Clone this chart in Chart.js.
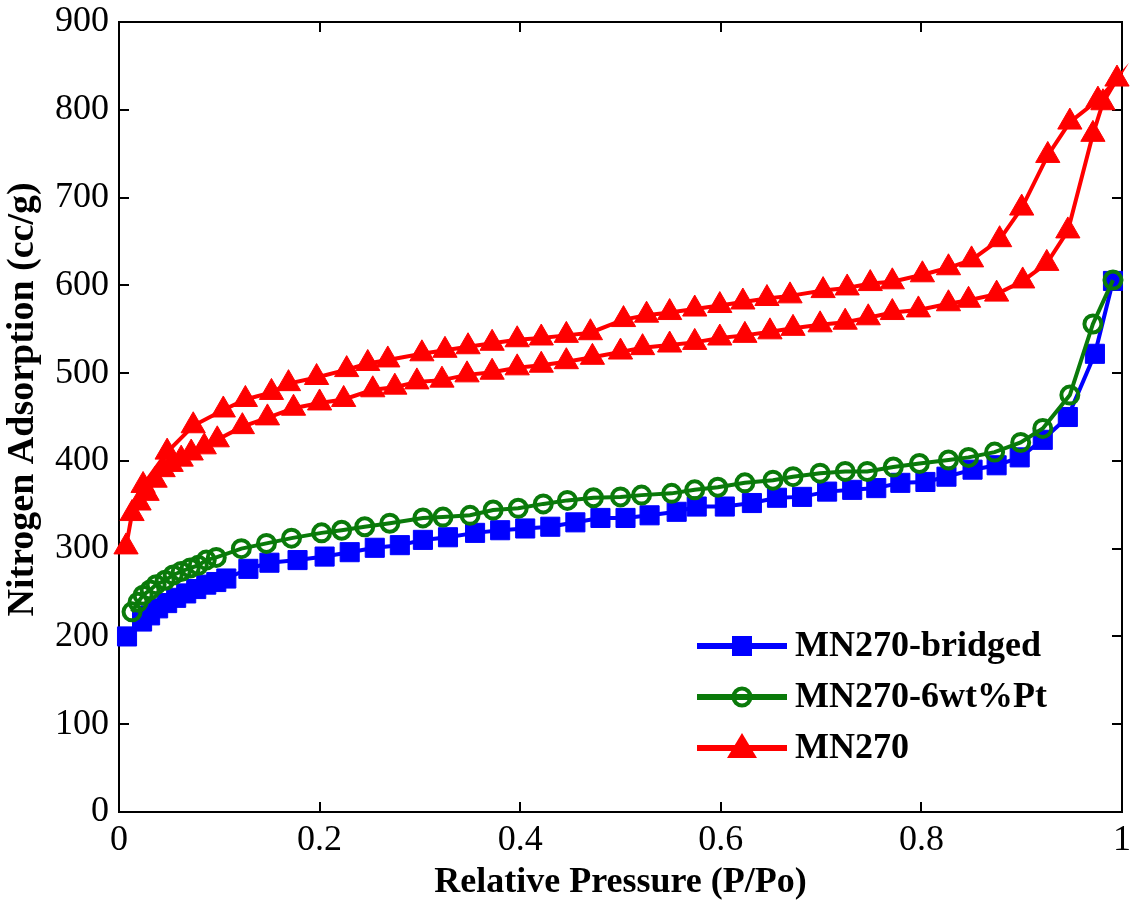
<!DOCTYPE html>
<html lang="en">
<head>
<meta charset="UTF-8">
<title>Nitrogen Adsorption Isotherms</title>
<script src="https://cdn.jsdelivr.net/npm/chart.js"></script>
<style>
    html, body { margin: 0; padding: 0; background: #fff; }
    #wrap { width: 1139px; height: 904px; }
</style>
</head>
<body>
<div id="wrap"><canvas id="isotherm" width="1139" height="904"></canvas></div>
<script>
// MN270-bridged (blue squares)
const bridgedP = [0.008, 0.023, 0.031, 0.039, 0.048, 0.057, 0.067, 0.077, 0.087, 0.097, 0.107, 0.129, 0.150, 0.178, 0.205, 0.230, 0.255, 0.280, 0.303, 0.328, 0.355, 0.380, 0.405, 0.430, 0.455, 0.480, 0.505, 0.529, 0.556, 0.576, 0.604, 0.631, 0.656, 0.681, 0.706, 0.731, 0.755, 0.779, 0.804, 0.825, 0.851, 0.875, 0.898, 0.921, 0.946, 0.973, 0.991];
const bridgedV = [200, 217, 224, 232, 238, 244, 249, 254, 259, 262, 266, 277, 284, 287, 291, 296, 301, 304, 310, 313, 318, 321, 323, 325, 330, 335, 335, 338, 342, 348, 348, 352, 358, 359, 365, 367, 369, 375, 376, 382, 390, 395, 404, 424, 450, 522, 605];

// MN270-6wt%Pt (green circles)
const ptP = [0.013, 0.019, 0.024, 0.031, 0.037, 0.046, 0.054, 0.062, 0.071, 0.079, 0.087, 0.097, 0.122, 0.147, 0.172, 0.202, 0.222, 0.245, 0.270, 0.303, 0.323, 0.350, 0.373, 0.398, 0.423, 0.447, 0.473, 0.500, 0.521, 0.551, 0.574, 0.597, 0.624, 0.652, 0.672, 0.699, 0.724, 0.746, 0.772, 0.798, 0.827, 0.847, 0.873, 0.899, 0.921, 0.948, 0.971, 0.991];
const ptV = [228, 239, 247, 253, 259, 264, 270, 274, 278, 281, 287, 290, 300, 306, 312, 318, 321, 325, 329, 335, 336, 338, 344, 346, 351, 355, 358, 359, 361, 363, 367, 370, 375, 378, 382, 386, 388, 388, 393, 397, 401, 404, 410, 421, 437, 475, 556, 606];

// MN270 (red triangles) : adsorption branch, then desorption branch
const adsP = [0.007, 0.013, 0.020, 0.028, 0.036, 0.044, 0.052, 0.062, 0.072, 0.085, 0.098, 0.123, 0.148, 0.174, 0.200, 0.224, 0.253, 0.275, 0.297, 0.322, 0.347, 0.372, 0.397, 0.421, 0.446, 0.472, 0.500, 0.522, 0.549, 0.574, 0.599, 0.624, 0.649, 0.672, 0.699, 0.724, 0.747, 0.771, 0.797, 0.827, 0.847, 0.875, 0.901, 0.925, 0.946, 0.971, 0.981, 0.995];
const adsV = [302, 340, 352, 363, 378, 390, 396, 402, 409, 416, 424, 439, 449, 460, 466, 470, 481, 484, 490, 492, 498, 501, 506, 509, 513, 518, 524, 529, 532, 535, 540, 543, 547, 551, 555, 558, 563, 569, 572, 579, 583, 590, 605, 625, 662, 772, 808, 835];
const desP = [0.976, 0.948, 0.926, 0.900, 0.878, 0.850, 0.827, 0.801, 0.771, 0.749, 0.726, 0.702, 0.669, 0.646, 0.622, 0.599, 0.574, 0.549, 0.526, 0.503, 0.470, 0.446, 0.421, 0.397, 0.372, 0.348, 0.325, 0.302, 0.268, 0.248, 0.227, 0.197, 0.169, 0.152, 0.126, 0.104, 0.074, 0.048, 0.024];
const desV = [811, 786, 748, 688, 652, 629, 620, 612, 604, 602, 597, 594, 588, 585, 581, 577, 573, 569, 566, 561, 546, 543, 540, 538, 534, 530, 526, 522, 515, 511, 504, 495, 488, 478, 470, 458, 440, 410, 372];

const labels = ['MN270-bridged', 'MN270-6wt%Pt', 'MN270'];
const yTicks = [0, 100, 200, 300, 400, 500, 600, 700, 800, 900];
const xTicks = [0, 0.2, 0.4, 0.6, 0.8, 1];
const yTitle = 'Nitrogen Adsorption (cc/g)';
const xTitle = 'Relative Pressure (P/Po)';

const SERIF = "'Liberation Serif', 'Times New Roman', serif";

function points(px, py) {
    return px.map((p, i) => ({ x: p, y: py[i] }));
}

// box around the plot with inward ticks on all four sides, plus the y title
const frame = {
    id: 'frame',
    beforeDatasetsDraw(chart) {
        const { ctx, chartArea: a, scales: { x, y } } = chart;
        ctx.save();
        ctx.strokeStyle = '#000';
        ctx.lineWidth = 2;
        ctx.strokeRect(a.left, a.top, a.right - a.left, a.bottom - a.top);
        ctx.beginPath();
        xTicks.forEach(v => {
            const px = Math.round(x.getPixelForValue(v));
            ctx.moveTo(px, a.bottom); ctx.lineTo(px, a.bottom - 10);
            ctx.moveTo(px, a.top); ctx.lineTo(px, a.top + 10);
        });
        yTicks.forEach(v => {
            const py = Math.round(y.getPixelForValue(v));
            ctx.moveTo(a.left, py); ctx.lineTo(a.left + 10, py);
            ctx.moveTo(a.right, py); ctx.lineTo(a.right - 10, py);
        });
        ctx.stroke();

        ctx.translate(23, y.getPixelForValue(470));
        ctx.rotate(-Math.PI / 2);
        ctx.fillStyle = '#000';
        ctx.font = 'bold 38px ' + SERIF;
        ctx.textAlign = 'center';
        ctx.textBaseline = 'middle';
        ctx.fillText(yTitle, 0, 0);
        ctx.restore();
    }
};

function marker(ctx, style, x, y, color) {
    ctx.fillStyle = color;
    ctx.strokeStyle = color;
    ctx.beginPath();
    if (style === 'rect') {
        ctx.rect(x - 10, y - 10, 20, 20);
        ctx.fill();
    } else if (style === 'circle') {
        ctx.lineWidth = 4;
        ctx.arc(x, y, 8.5, 0, Math.PI * 2);
        ctx.stroke();
    } else {
        ctx.moveTo(x, y - 15);
        ctx.lineTo(x + 15, y + 10);
        ctx.lineTo(x - 15, y + 10);
        ctx.closePath();
        ctx.fill();
    }
}

// legend: line sample with marker, then bold label
const legendBox = {
    id: 'legendBox',
    afterDatasetsDraw(chart, args, opts) {
        const ctx = chart.ctx;
        ctx.save();
        chart.data.datasets.forEach((ds, i) => {
            const y = opts.top + i * opts.gap;
            ctx.strokeStyle = ds.borderColor;
            ctx.lineWidth = 6;
            ctx.beginPath();
            ctx.moveTo(opts.left, y);
            ctx.lineTo(opts.left + opts.length, y);
            ctx.stroke();
            marker(ctx, ds.pointStyle, opts.left + opts.length / 2, y, ds.borderColor);
            ctx.fillStyle = '#000';
            ctx.font = 'bold 36px ' + SERIF;
            ctx.textBaseline = 'middle';
            ctx.textAlign = 'left';
            ctx.fillText(ds.label, opts.left + opts.length + 8, y + 1);
        });
        ctx.restore();
    }
};

new Chart(document.getElementById('isotherm'), {
    type: 'line',
    data: {
        datasets: [{
            label: labels[0],
            data: points(bridgedP, bridgedV),
            borderColor: '#0000ff',
            backgroundColor: '#0000ff',
            borderWidth: 4,
            pointStyle: 'rect',
            pointRadius: 13.5,
            pointBorderWidth: 1,
            pointBackgroundColor: '#0000ff',
            order: 3
        }, {
            label: labels[1],
            data: points(ptP, ptV),
            borderColor: '#0a7a0a',
            backgroundColor: 'rgba(0,0,0,0)',
            borderWidth: 4,
            pointStyle: 'circle',
            pointRadius: 8.5,
            pointBorderWidth: 4,
            pointBackgroundColor: 'rgba(0,0,0,0)',
            order: 2
        }, {
            label: labels[2],
            data: points(adsP.concat(desP), adsV.concat(desV)),
            borderColor: '#ff0000',
            backgroundColor: '#ff0000',
            borderWidth: 4,
            pointStyle: 'triangle',
            pointRadius: 14,
            pointBorderWidth: 1,
            pointBackgroundColor: '#ff0000',
            order: 1
        }]
    },
    options: {
        responsive: false,
        animation: false,
        clip: false,
        elements: { line: { tension: 0 } },
        layout: { padding: { top: 22, right: 17, left: 0, bottom: 0 } },
        plugins: {
            legend: { display: false },
            tooltip: { enabled: false },
            legendBox: { left: 697, length: 90, top: 646, gap: 51 }
        },
        scales: {
            x: {
                type: 'linear',
                min: 0,
                max: 1,
                afterFit: s => { s.height = 92; s.paddingLeft = 0; s.paddingRight = 0; },
                afterBuildTicks: s => { s.ticks = xTicks.map(v => ({ value: v })); },
                grid: { display: false, drawTicks: false },
                border: { display: false },
                ticks: {
                    color: '#000',
                    padding: 7,
                    font: { family: SERIF, size: 36 },
                    callback: v => String(v)
                },
                title: {
                    display: true,
                    text: xTitle,
                    color: '#000',
                    padding: { top: 0, bottom: 0 },
                    font: { family: SERIF, size: 36, weight: 'bold' }
                }
            },
            y: {
                min: 0,
                max: 900,
                afterFit: s => { s.width = 119; s.paddingTop = 0; s.paddingBottom = 0; },
                afterBuildTicks: s => { s.ticks = yTicks.map(v => ({ value: v })); },
                grid: { display: false, drawTicks: false },
                border: { display: false },
                ticks: { color: '#000', padding: 10, font: { family: SERIF, size: 36 } }
            }
        }
    },
    plugins: [frame, legendBox]
});
</script>
</body>
</html>
